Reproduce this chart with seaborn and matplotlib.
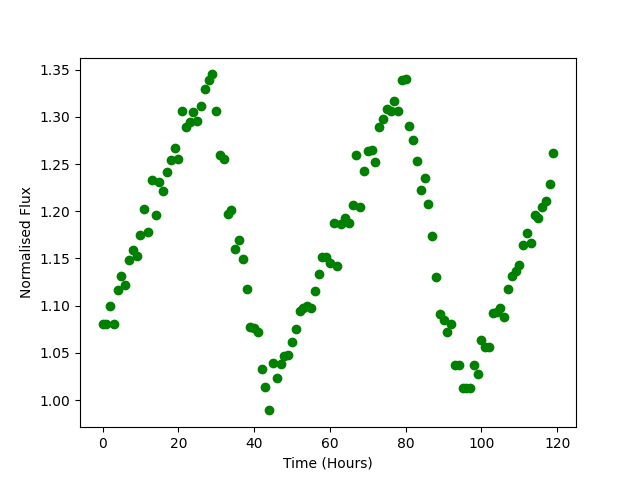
import numpy as np
import pandas as pd
import matplotlib
matplotlib.use('Agg')
import matplotlib.pyplot as plt
import seaborn as sns

# Time in hours (one reading per hour)
hours = np.arange(120)

# Normalised flux
flux = [
    1.081, 1.081, 1.100, 1.081, 1.117, 1.131, 1.122, 1.148, 1.159, 1.153,
    1.175, 1.202, 1.178, 1.233, 1.196, 1.231, 1.221, 1.242, 1.254, 1.267,
    1.255, 1.306, 1.289, 1.295, 1.305, 1.296, 1.312, 1.330, 1.339, 1.345,
    1.306, 1.260, 1.255, 1.197, 1.201, 1.160, 1.170, 1.149, 1.118, 1.077,
    1.076, 1.072, 1.033, 1.014, 0.989, 1.039, 1.023, 1.038, 1.047, 1.048,
    1.062, 1.075, 1.094, 1.098, 1.100, 1.097, 1.115, 1.134, 1.152, 1.152,
    1.145, 1.188, 1.142, 1.187, 1.193, 1.188, 1.207, 1.260, 1.204, 1.243,
    1.264, 1.265, 1.252, 1.289, 1.298, 1.308, 1.306, 1.317, 1.306, 1.339,
    1.340, 1.290, 1.276, 1.253, 1.223, 1.235, 1.208, 1.174, 1.130, 1.091,
    1.085, 1.072, 1.081, 1.037, 1.037, 1.013, 1.013, 1.013, 1.037, 1.028,
    1.064, 1.056, 1.056, 1.092, 1.093, 1.098, 1.088, 1.118, 1.131, 1.137,
    1.143, 1.164, 1.177, 1.166, 1.196, 1.193, 1.204, 1.211, 1.229, 1.262,
]

df = pd.DataFrame({'Time (Hours)': hours, 'Normalised Flux': flux})

fig, ax = plt.subplots(figsize=(6.4, 4.8), dpi=100)
sns.scatterplot(data=df, x='Time (Hours)', y='Normalised Flux', color='green',
                edgecolor='green', linewidth=1, s=36, ax=ax)
ax.set_xlabel('Time (Hours)')
ax.set_ylabel('Normalised Flux')

plt.savefig('out.png', dpi=100)
